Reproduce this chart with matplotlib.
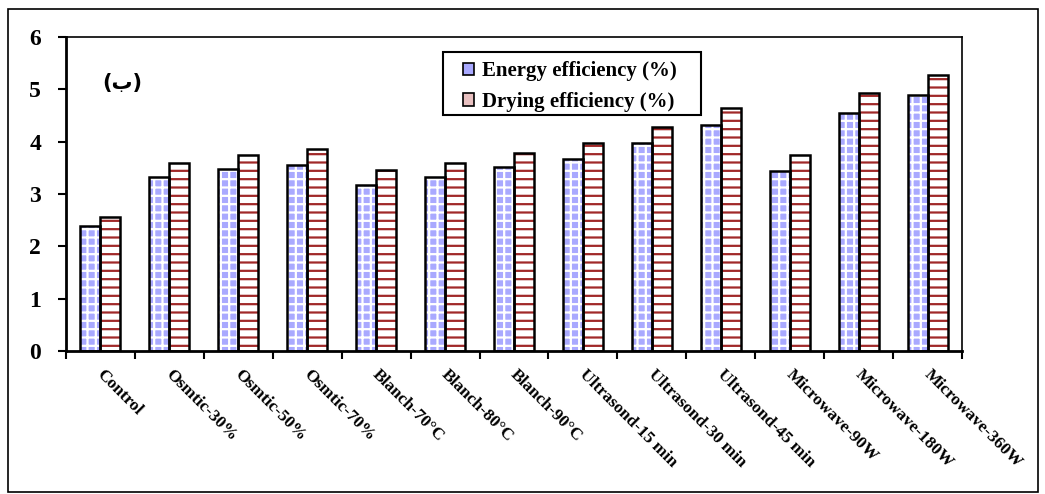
import matplotlib
matplotlib.use("Agg")
import matplotlib.pyplot as plt
import numpy as np
from matplotlib.patches import Rectangle

categories = ["Control", "Osmtic-30%", "Osmtic-50%", "Osmtic-70%", "Blanch-70°C",
              "Blanch-80°C", "Blanch-90°C", "Ultrasond-15 min", "Ultrasond-30 min",
              "Ultrasond-45 min", "Microwave-90W", "Microwave-180W", "Microwave-360W"]
energy = [2.38, 3.33, 3.48, 3.55, 3.18, 3.33, 3.52, 3.67, 3.97, 4.32, 3.44, 4.55, 4.89]
drying = [2.57, 3.60, 3.75, 3.86, 3.45, 3.60, 3.78, 3.98, 4.28, 4.65, 3.75, 4.93, 5.28]
series_labels = ["Energy efficiency (%)", "Drying efficiency (%)"]
yticks = [0, 1, 2, 3, 4, 5, 6]

plt.rcParams["font.family"] = ["Liberation Serif", "DejaVu Serif"]
plt.rcParams["font.weight"] = "bold"
plt.rcParams["hatch.linewidth"] = 1.6

fig = plt.figure(figsize=(10.45, 4.94), dpi=100)
ax = fig.add_axes([66 / 1045, 1 - 351 / 494, 896 / 1045, 314 / 494])

x = np.arange(len(categories))
w = 0.29

# hatched fills, then black outlines on top
ax.bar(x - w / 2, energy, w, color="#a9a9ff", hatch="++", edgecolor="white", linewidth=0)
ax.bar(x + w / 2, drying, w, color="white", hatch="--", edgecolor="#a02828", linewidth=0)
ax.bar(x - w / 2, energy, w, fill=False, edgecolor="black", linewidth=1.8)
ax.bar(x + w / 2, drying, w, fill=False, edgecolor="black", linewidth=1.8)

ax.set_xlim(-0.5, len(categories) - 0.5)
ax.set_ylim(0, 6)
ax.set_yticks(yticks)
ax.set_yticklabels([str(v) for v in yticks], fontsize=17, fontweight="bold")
ax.set_xticks(np.arange(len(categories) + 1) - 0.5)
ax.set_xticklabels([])
ax.tick_params(axis="both", direction="out", length=6, width=1.5, color="black")
ax.tick_params(axis="y", pad=12)
for s in ax.spines.values():
    s.set_linewidth(1.2)
ax.spines["left"].set_linewidth(2)
ax.spines["bottom"].set_linewidth(2)

for i, lab in enumerate(categories):
    ax.annotate(lab, xy=(i, 0), xycoords=("data", "axes fraction"),
                xytext=(-1, -15), textcoords="offset points",
                rotation=-45, rotation_mode="anchor", ha="left", va="center",
                fontsize=12.5, fontweight="bold")

ax.text(0.041, 0.855, "(ب)", transform=ax.transAxes, fontsize=15,
        fontweight="bold", family=["DejaVu Sans"], va="center", ha="left")

# legend: box drawn separately so its padding matches the original
ax.add_patch(Rectangle((0.4208, 0.7516), 0.2879, 0.2004, transform=ax.transAxes,
                       fill=False, edgecolor="black", linewidth=1.5, zorder=5))
handles = [Rectangle((0, 0), 1, 1, facecolor="#a9a9ff", edgecolor="black", linewidth=1.2),
           Rectangle((0, 0), 1, 1, facecolor="#e8c0c0", edgecolor="black", linewidth=1.2)]
leg = ax.legend(handles, series_labels, loc="upper left", bbox_to_anchor=(0.443, 0.922),
                frameon=False, handlelength=0.55, handleheight=0.55, handletextpad=0.35,
                borderpad=0, labelspacing=0.5, borderaxespad=0,
                prop={"weight": "bold", "size": 15})

fig.patches.append(Rectangle((8 / 1045, 1 - 492 / 494), 1030 / 1045, 483 / 494,
                             transform=fig.transFigure, fill=False, edgecolor="black",
                             linewidth=1.2))

fig.savefig("out.png", dpi=100)
